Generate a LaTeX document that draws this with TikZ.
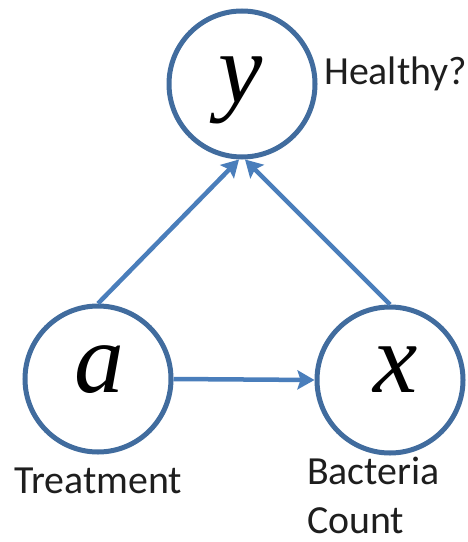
\documentclass[tikz,border=0pt]{standalone}
\usepackage{fontspec}
\setmainfont{Carlito}
\newfontfamily\varfont{Liberation Serif}
\usetikzlibrary{arrows.meta}
\definecolor{ringblue}{RGB}{65,108,158}
\definecolor{edgeblue}{RGB}{74,126,187}
\definecolor{labelgray}{RGB}{30,30,30}
\tikzset{
  var/.style={circle, draw=ringblue, line width=5bp, minimum size=146bp, inner sep=0pt},
  sym/.style={inner sep=0pt, anchor=base, font=\varfont\itshape\fontsize{100}{100}\selectfont},
  caption/.style={inner sep=0pt, anchor=base west, text=labelgray, font=\fontsize{40}{40}\selectfont},
  edge/.style={draw=edgeblue, line width=4.5bp, -{Stealth[length=17bp, width=19bp, inset=3bp]}},
}
\begin{document}
\begin{tikzpicture}[x=1bp, y=-1bp]
  \useasboundingbox (0,0) rectangle (468,542);
  % variable circles
  \node[var] (y) at (242,84) {};
  \node[var] (a) at (98,379) {};
  \node[var] (x) at (390,380) {};
  % variable letters
  \node[sym] (ysym) at (241,103) {y};
  \node[sym] (asym) at (99,392) {a};
  \node[sym] (xsym) at (396,392) {x};
  % captions
  \node[caption] (healthy) at (324,85) {Healthy?};
  \node[caption] (treat) at (14,493) {Treatment};
  \node[caption] (bact) at (307,484) {Bacteria};
  \node[caption] (count) at (307,533) {Count};
  % causal edges
  \draw[edge] (a.north) -- ([xshift=-3bp]y.south);
  \draw[edge] (x.north) -- ([xshift=3bp]y.south);
  \draw[edge] (a.east) -- (x.west);
\end{tikzpicture}
\end{document}
